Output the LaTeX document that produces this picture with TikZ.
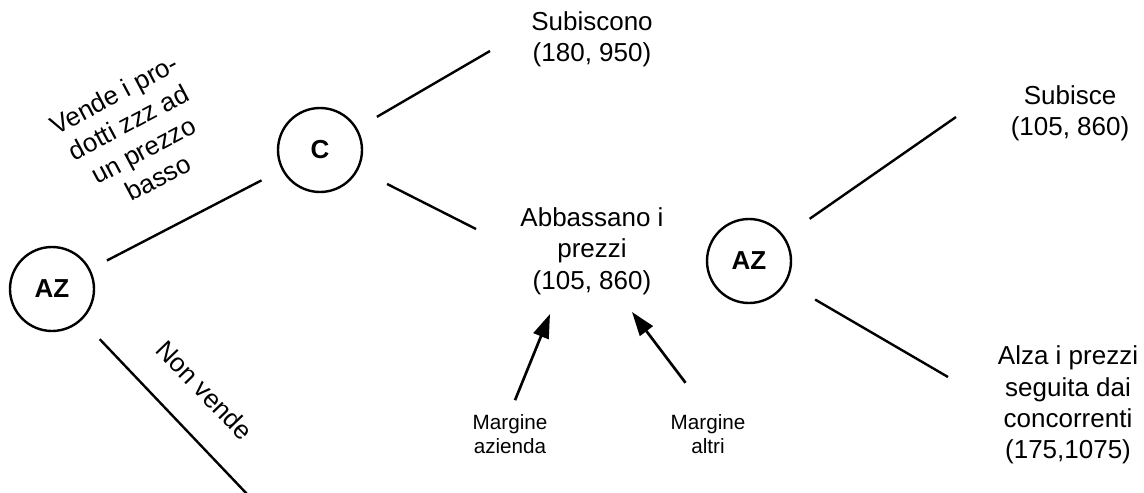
\documentclass[tikz,border=0pt]{standalone}
\usepackage{fontspec}
\setmainfont{Liberation Sans}
\usetikzlibrary{arrows.meta}

\tikzset{every picture/.style={line width=1.8pt}}
\tikzset{
  player/.style={draw,circle,minimum size=63pt,inner sep=0pt,font=\fontsize{19.5}{23.5}\selectfont\bfseries},
  payoff/.style={align=center,inner sep=0.75pt,font=\fontsize{19.5}{23.5}\selectfont},
  note/.style={align=center,inner sep=0.75pt,font=\fontsize{15.5}{17.5}\selectfont},
  pointer/.style={-{Triangle[length=18pt,width=12pt]},line width=2pt}
}

\begin{document}
\begin{tikzpicture}[x=0.75pt,y=0.75pt,yscale=-1,xscale=1]
\path[use as bounding box] (0,0) rectangle (1144,492);

%Players
\node[player] (az1) at (52,289) {AZ};
\node[player] (c) at (320,150) {C};
\node[player] (az2) at (749,261) {AZ};

%Outcomes
\node[payoff] (subiscono) at (592,39) {Subiscono\\(180, 950)};
\node[payoff] (abbassano) at (592,251) {Abbassano i\\prezzi\\(105, 860)};
\node[payoff] (subisce) at (1070,113) {Subisce\\(105, 860)};
\node[payoff] (alza) at (1068,405) {Alza i prezzi\\seguita dai\\concorrenti\\(175,1075)};

%Branch labels
\node[payoff,rotate=28] (vende) at (136,136) {Vende i pro-\\dotti zzz ad\\un prezzo\\basso};
\node[payoff,rotate=-46] (nonvende) at (205,390) {Non vende};

%Margins
\node[note] (mazienda) at (510,434) {Margine\\azienda};
\node[note] (maltri) at (708,434) {Margine\\altri};

%Free ends of the branches
\coordinate (e1) at (490,51);
\coordinate (e2) at (476,229);
\coordinate (e3) at (956,117);
\coordinate (e4) at (948,377);
\coordinate (e5) at (247,494);
\coordinate (tipA) at (550,314);
\coordinate (tipB) at (632,312);

%Branches
\draw[shorten <=14pt,shorten >=17pt] (az1) -- (c);
\draw[shorten <=19.5pt] (az1) -- (e5);
\draw[shorten <=17pt] (c) -- (e1);
\draw[shorten <=24pt] (c) -- (e2);
\draw[shorten <=23pt] (az2) -- (e3);
\draw[shorten <=25pt] (az2) -- (e4);

%Arrows to the payoff
\draw[pointer,shorten <=10pt] (mazienda.north) -- (tipA);
\draw[pointer,shorten <=28pt] (maltri.north) -- (tipB);

\end{tikzpicture}
\end{document}
